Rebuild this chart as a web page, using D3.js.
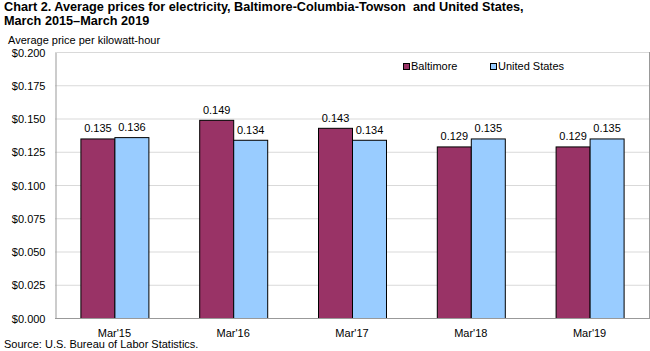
<!DOCTYPE html>
<html>
<head>
<meta charset="utf-8">
<script src="https://cdn.jsdelivr.net/npm/d3@7"></script>
<style>
  body { margin: 0; background: #fff; }
  svg { display: block; font-family: Arial, "Liberation Sans", sans-serif; }
  .title { font-size: 12.7px; font-weight: bold; fill: #000; white-space: pre; }
  .small { font-size: 11px; fill: #000; }
</style>
</head>
<body>
<div id="chart"></div>
<script>
// Chart data
var periods = ["Mar'15", "Mar'16", "Mar'17", "Mar'18", "Mar'19"];
var baltimore = [0.135, 0.149, 0.143, 0.129, 0.129];
var unitedStates = [0.136, 0.134, 0.134, 0.135, 0.135];
var seriesNames = ['Baltimore', 'United States'];
var seriesColors = ['#993366', '#99ccff'];
var yTicks = [0, 0.025, 0.05, 0.075, 0.1, 0.125, 0.15, 0.175, 0.2];

(function() {
    'use strict';

    var width = 650, height = 351;
    var left = 55, right = 649, top = 52, bottom = 318;

    var svg = d3.select('#chart').append('svg')
        .attr('width', width)
        .attr('height', height);

    // Title
    svg.append('text').attr('class', 'title').attr('x', 4).attr('y', 11)
        .text('Chart 2. Average prices for electricity, Baltimore-Columbia-Towson  and United States,');
    svg.append('text').attr('class', 'title').attr('x', 4).attr('y', 25)
        .text('March 2015\u2013March 2019');

    svg.append('text').attr('class', 'small').attr('x', 8).attr('y', 44)
        .text('Average price per kilowatt-hour');

    var x = d3.scaleBand().domain(periods).range([left, right]);
    var y = d3.scaleLinear().domain([0, 0.2]).range([bottom, top]);
    var barW = 34;

    // Gridlines
    svg.append('g').selectAll('line')
        .data(yTicks.filter(function(t) { return t > 0; }))
        .join('line')
        .attr('x1', left).attr('x2', right)
        .attr('y1', function(d) { return y(d) + 0.5; })
        .attr('y2', function(d) { return y(d) + 0.5; })
        .attr('stroke', '#d9d9d9');

    // Y axis
    var yAxis = svg.append('g')
        .attr('transform', 'translate(' + (left + 0.5) + ',0.5)')
        .call(d3.axisLeft(y).tickValues(yTicks).tickSize(0).tickPadding(10)
            .tickFormat(function(d) { return '$' + d3.format('.3f')(d); }));
    yAxis.select('.domain').attr('stroke', '#999');
    yAxis.selectAll('text').attr('font-size', 11).attr('font-family', 'Arial, "Liberation Sans", sans-serif').attr('fill', '#000');

    // Right border
    svg.append('line')
        .attr('x1', right + 0.5).attr('x2', right + 0.5)
        .attr('y1', top).attr('y2', bottom)
        .attr('stroke', '#999');

    // Bars
    var values = [baltimore, unitedStates];
    values.forEach(function(vals, s) {
        var g = svg.append('g');
        g.selectAll('rect')
            .data(vals)
            .join('rect')
            .attr('x', function(d, i) { return x(periods[i]) + x.bandwidth() / 2 - barW + s * barW + 0.5; })
            .attr('y', function(d) { return y(d) + 0.5; })
            .attr('width', barW)
            .attr('height', function(d) { return bottom - y(d); })
            .attr('fill', seriesColors[s])
            .attr('stroke', '#000')
            .attr('stroke-width', 1);
        g.selectAll('text')
            .data(vals)
            .join('text')
            .attr('class', 'small')
            .attr('text-anchor', 'middle')
            .attr('x', function(d, i) { return x(periods[i]) + x.bandwidth() / 2 - barW / 2 + s * barW + 0.5; })
            .attr('y', function(d) { return y(d) - 6; })
            .text(function(d) { return d3.format('.3f')(d); });
    });

    // X axis
    svg.append('line')
        .attr('x1', left).attr('x2', right + 1)
        .attr('y1', bottom + 0.5).attr('y2', bottom + 0.5)
        .attr('stroke', '#999');
    svg.append('g').selectAll('text')
        .data(periods)
        .join('text')
        .attr('class', 'small')
        .attr('text-anchor', 'middle')
        .attr('x', function(d) { return x(d) + x.bandwidth() / 2; })
        .attr('y', bottom + 19)
        .text(function(d) { return d; });

    // Legend
    var legendX = [403, 490];
    seriesNames.forEach(function(name, s) {
        svg.append('rect')
            .attr('x', legendX[s] + 0.5).attr('y', 63.5)
            .attr('width', 6).attr('height', 6)
            .attr('fill', seriesColors[s])
            .attr('stroke', '#000');
        svg.append('text').attr('class', 'small')
            .attr('x', legendX[s] + 8).attr('y', 70)
            .text(name);
    });

    // Source
    svg.append('text').attr('class', 'small').attr('x', 4).attr('y', 348)
        .text('Source: U.S. Bureau of Labor Statistics.');
})();
</script>
</body>
</html>
